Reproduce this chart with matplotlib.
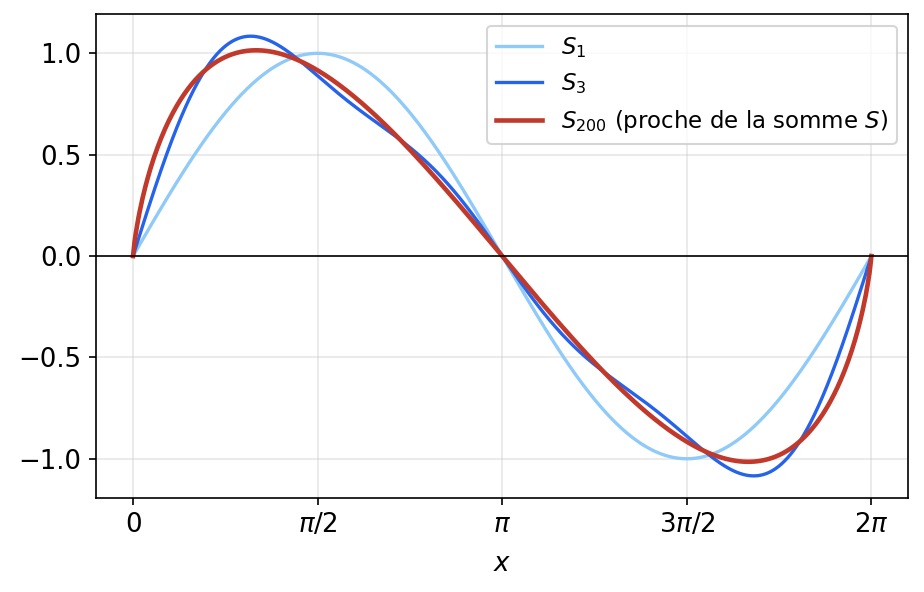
import numpy as np
import matplotlib.pyplot as plt

# partial sums S_n(x) = sum_{k=1}^{n} sin(kx) / k^2
orders = [1, 3, 200]
labels = [r"$S_1$", r"$S_3$", r"$S_{200}$ (proche de la somme $S$)"]
colors = ["#90CAF9", "#2563EB", "#C0392B"]
widths = [1.6, 1.6, 2.2]

tick_pos = [0, np.pi / 2, np.pi, 3 * np.pi / 2, 2 * np.pi]
tick_lab = ["$0$", r"$\pi/2$", r"$\pi$", r"$3\pi/2$", r"$2\pi$"]

x = np.linspace(0, 2 * np.pi, 2000)


def partial_sum(n):
    k = np.arange(1, n + 1)[:, None]
    return (np.sin(k * x) / k**2).sum(axis=0)


plt.rcParams['font.size'] = 12.5

fig, ax = plt.subplots(figsize=(6.16, 3.9467), dpi=150)

for n, lab, c, w in zip(orders, labels, colors, widths):
    ax.plot(x, partial_sum(n), color=c, lw=w, label=lab)

ax.axhline(0, color='black', lw=0.8)
ax.set_xticks(tick_pos)
ax.set_xticklabels(tick_lab)
ax.set_xlabel("$x$", labelpad=6)
ax.grid(True, alpha=0.3)
ax.legend(fontsize=11, loc='upper right')

fig.subplots_adjust(left=0.104, right=0.983, top=0.976, bottom=0.159)
fig.savefig("out.png", dpi=150)
